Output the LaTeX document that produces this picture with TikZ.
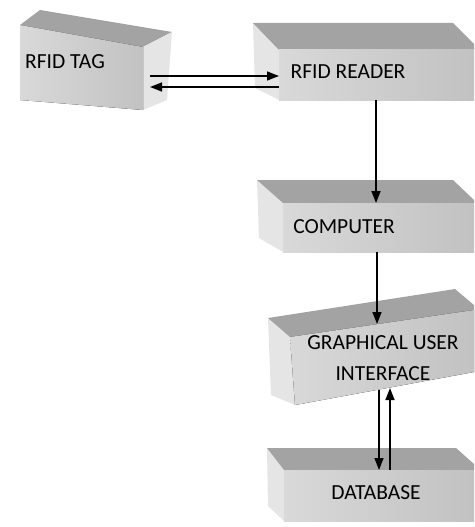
\documentclass[tikz,border=0pt]{standalone}
\usepackage{fontspec}
\setmainfont{Carlito}
\usetikzlibrary{positioning, calc, arrows.meta}

\tikzset{
  topface/.style={fill=black!36},
  frontface/.style={left color=black!15, right color=black!24},
  sideface/.style={fill=black!10},
  lbl/.style={font=\fontsize{21.5}{31}\selectfont, align=center, text=black, inner sep=0pt},
  link/.style={->, line width=1.6pt}
}

\begin{document}
\begin{tikzpicture}[x=1pt, y=-1pt, >={Triangle[length=12pt,width=9pt]}]
  \useasboundingbox (0,0) rectangle (474,527);

  % rfid tag
  \fill[topface] (20,25) -- (40,10) -- (172,32) -- (143,47) -- cycle;
  \fill[sideface] (143,47) -- (172,32) -- (167,100) -- (143,110) -- cycle;
  \fill[frontface] (20,25) -- (143,47) -- (143,110) -- (20,100) -- cycle;
  \node (tag) [lbl] at (65,62) {RFID TAG};

  % rfid reader
  \fill[sideface] (253,23) -- (279,50) -- (279,100) -- (255,88) -- cycle;
  \fill[topface] (253,23) -- (453,23) -- (474,44) -- (474,50) -- (279,50) -- cycle;
  \fill[frontface] (279,50) rectangle (474,100);
  \node (reader) [lbl] at (348,72) {RFID READER};

  % computer
  \fill[sideface] (257,180) -- (283,203) -- (283,252) -- (259,238) -- cycle;
  \fill[topface] (257,180) -- (453,180) -- (474,200) -- (474,203) -- (283,203) -- cycle;
  \fill[frontface] (283,203) rectangle (474,252);
  \node (computer) [lbl] at (344,227) {COMPUTER};

  % gui
  \fill[sideface] (268,318) -- (290,337) -- (295,405) -- (271,395) -- cycle;
  \fill[topface] (268,318) -- (455,289) -- (474,305) -- (474,310) -- (290,337) -- cycle;
  \fill[frontface] (290,337) -- (474,310) -- (474,372) -- (295,405) -- cycle;
  \node (gui) [lbl] at (383,358) {GRAPHICAL USER\\INTERFACE};

  % database
  \fill[sideface] (267,448) -- (284,470) -- (284,521) -- (268,506) -- cycle;
  \fill[topface] (267,448) -- (456,448) -- (474,464) -- (474,470) -- (284,470) -- cycle;
  \fill[frontface] (284,470) rectangle (474,521);
  \node (db) [lbl] at (376,493) {DATABASE};

  % arrow ends
  \coordinate (tagOut) at (150,76);
  \coordinate (tagIn) at (150,87);
  \coordinate (readerIn) at (279,76);
  \coordinate (readerOut) at (279,87);
  \coordinate (readerBot) at (376,100);
  \coordinate (compTop) at (376,203);
  \coordinate (compBot) at (377,252);
  \coordinate (guiTop) at (377,324);
  \coordinate (guiBotA) at (379,390);
  \coordinate (guiBotB) at (390,388);
  \coordinate (dbTopA) at (379,470);
  \coordinate (dbTopB) at (390,470);

  \draw [link] (tagOut) -- (readerIn);
  \draw [link] (readerOut) -- (tagIn);
  \draw [link] (readerBot) -- (compTop);
  \draw [link] (compBot) -- (guiTop);
  \draw [link] (guiBotA) -- (dbTopA);
  \draw [link] (dbTopB) -- (guiBotB);
\end{tikzpicture}
\end{document}
